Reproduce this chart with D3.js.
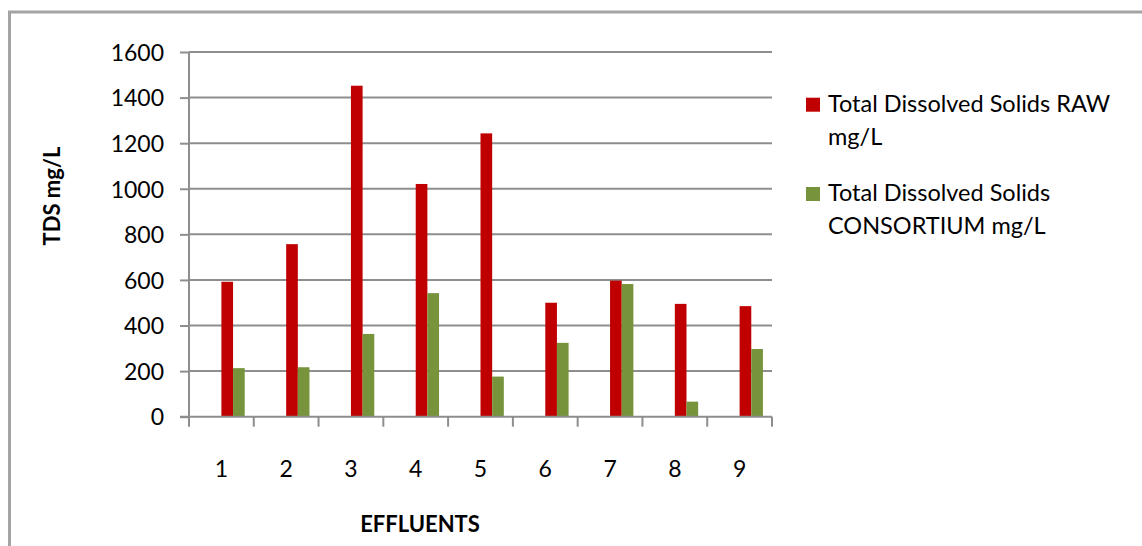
<!DOCTYPE html>
<html>
<head>
<meta charset="utf-8">
<script src="https://cdn.jsdelivr.net/npm/d3@7"></script>
<style>
  html, body { margin: 0; padding: 0; background: #fff; }
  svg { display: block; }
  text { font-family: Lato, "Open Sans", sans-serif; fill: #000; }
</style>
</head>
<body>
<svg id="chart" width="1142" height="546"></svg>
<script>
// Effluent samples on the x axis
const categories = ["1", "2", "3", "4", "5", "6", "7", "8", "9"];

// Total dissolved solids, mg/L
const rawValues = [592, 757, 1452, 1021, 1243, 500, 597, 495, 485];
const consortiumValues = [213, 217, 363, 542, 176, 324, 582, 66, 297];

const seriesNames = [
  ["Total Dissolved Solids RAW", "mg/L"],
  ["Total Dissolved Solids", "CONSORTIUM mg/L"]
];
const seriesColors = ["#C00000", "#77933C"];

const yTicks = [0, 200, 400, 600, 800, 1000, 1200, 1400, 1600];

const svg = d3.select("#chart");
const gridColor = "#8e8e8e";
const labelSize = 23;

// Outer chart frame
svg.append("rect")
  .attr("x", 9.5).attr("y", 12)
  .attr("width", 1160).attr("height", 560)
  .attr("fill", "none")
  .attr("stroke", "#a3a3a3")
  .attr("stroke-width", 3);

const plot = { left: 189, right: 772, top: 52, bottom: 416.7 };

const x = d3.scaleBand().domain(categories).range([plot.left, plot.right]).padding(0);
const y = d3.scaleLinear().domain([0, 1600]).range([plot.bottom, plot.top]);

// Two adjacent bars starting at the category centre
const barW = x.bandwidth() * 0.18;
const inner = d3.scaleBand().domain(["raw", "consortium"]).range([0, 2 * barW]);

// Horizontal gridlines
svg.append("g")
  .selectAll("line")
  .data(yTicks.filter(t => t > 0))
  .join("line")
  .attr("x1", plot.left).attr("x2", plot.right)
  .attr("y1", d => y(d)).attr("y2", d => y(d))
  .attr("stroke", gridColor).attr("stroke-width", 2);

// Bars
const rows = categories.map((c, i) => ({ c, raw: rawValues[i], consortium: consortiumValues[i] }));
const keys = ["raw", "consortium"];
keys.forEach((k, ki) => {
  svg.append("g")
    .selectAll("rect")
    .data(rows)
    .join("rect")
    .attr("x", d => x(d.c) + x.bandwidth() / 2 + inner(k))
    .attr("width", inner.bandwidth())
    .attr("y", d => y(d[k]))
    .attr("height", d => y(0) - y(d[k]))
    .attr("fill", seriesColors[ki]);
});

// Y axis
const yAxis = svg.append("g")
  .attr("transform", `translate(${plot.left},0)`)
  .call(d3.axisLeft(y).tickValues(yTicks).tickSize(9).tickPadding(16).tickFormat(d3.format("d")));
yAxis.select(".domain").attr("stroke", gridColor).attr("stroke-width", 2).attr("d", `M0,${plot.top}V${plot.bottom}`);
yAxis.selectAll(".tick line").attr("stroke", gridColor).attr("stroke-width", 2);
yAxis.selectAll(".tick text")
  .attr("font-size", labelSize)
  .attr("font-family", "Lato, 'Open Sans', sans-serif")
  .attr("dy", "0.36em");

// X axis: labels centred on categories, ticks at category boundaries
const xAxis = svg.append("g")
  .attr("transform", `translate(0,${plot.bottom})`)
  .call(d3.axisBottom(x).tickSize(0).tickPadding(0));
xAxis.select(".domain").attr("stroke", gridColor).attr("stroke-width", 2)
  .attr("d", `M${plot.left - 9},0H${plot.right}`);
xAxis.selectAll(".tick text")
  .attr("font-size", labelSize)
  .attr("font-family", "Lato, 'Open Sans', sans-serif")
  .attr("y", 60).attr("dy", 0);

const bounds = categories.map(c => x(c)).concat([plot.right]);
xAxis.append("g")
  .selectAll("line")
  .data(bounds)
  .join("line")
  .attr("x1", d => d).attr("x2", d => d)
  .attr("y1", 0).attr("y2", 10)
  .attr("stroke", gridColor).attr("stroke-width", 2);

// Axis titles
svg.append("text")
  .attr("x", 420).attr("y", 532)
  .attr("text-anchor", "middle")
  .attr("font-size", 22).attr("font-weight", "bold")
  .text("EFFLUENTS");

svg.append("text")
  .attr("transform", "translate(60,196) rotate(-90)")
  .attr("text-anchor", "middle")
  .attr("font-size", 22).attr("font-weight", "bold")
  .text("TDS mg/L");

// Legend
const legend = svg.append("g");
const legendBase = [111.7, 201];
seriesNames.forEach((lines, i) => {
  const g = legend.append("g").attr("transform", `translate(806,${legendBase[i]})`);
  g.append("rect")
    .attr("x", 0).attr("y", -14)
    .attr("width", 14).attr("height", 14)
    .attr("fill", seriesColors[i]);
  lines.forEach((t, li) => {
    g.append("text")
      .attr("x", 22).attr("y", li * 33)
      .attr("font-size", 23.5)
      .text(t);
  });
});
</script>
</body>
</html>
